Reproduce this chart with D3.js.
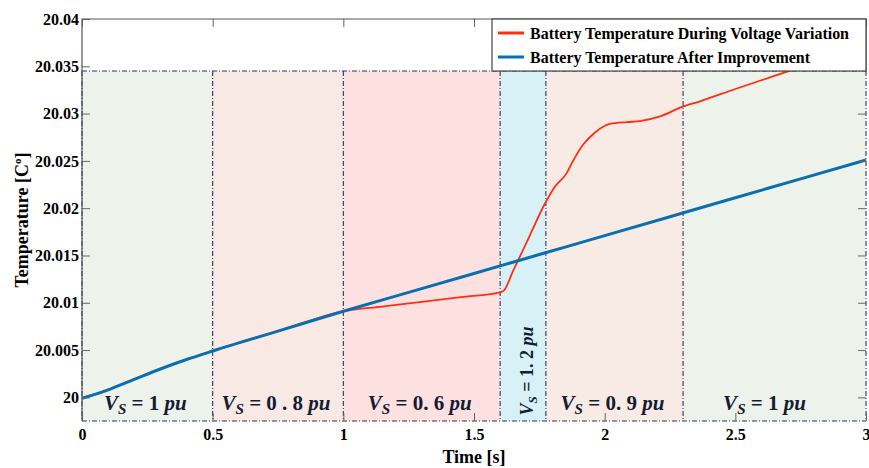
<!DOCTYPE html>
<html lang="en">
<head>
    <meta charset="UTF-8">
    <title>Battery Temperature</title>
    <script src="https://d3js.org/d3.v7.min.js"></script>
    <style>
        body { margin: 0; background: white; }
        text { font-family: "Liberation Serif", "Times New Roman", serif; font-weight: bold; }
    </style>
</head>
<body>
    <svg id="svg1" height="468" width="869" style="background: white"></svg>

    <script>
        // data ------------------------------------------------------------------------
        const seriesNames = ["Battery Temperature During Voltage Variation", "Battery Temperature After Improvement"];

        const timeBlue = [0, 0.1, 0.2, 0.3, 0.4, 0.5, 0.75, 1, 1.25, 1.5, 1.75, 2, 2.25, 2.5, 2.75, 3];
        const tempBlue = [19.9999, 20.0008, 20.0019, 20.0030, 20.0040, 20.0049, 20.0070, 20.0091,
                          20.0111, 20.0131, 20.0151, 20.0171, 20.0191, 20.0211, 20.0231, 20.0251];

        const timeRed = [0, 0.1, 0.2, 0.3, 0.4, 0.5, 0.75, 1, 1.15, 1.3, 1.45, 1.6, 1.615, 1.65, 1.7, 1.7756,
                         1.81, 1.852, 1.879, 1.917, 1.963, 2.02, 2.085, 2.135, 2.212, 2.296, 2.365, 2.5, 2.728, 3];
        const tempRed = [19.9999, 20.0008, 20.0019, 20.0030, 20.0040, 20.0049, 20.0070, 20.0091, 20.0096,
                         20.0101, 20.0106, 20.0111, 20.0113, 20.0134, 20.0163, 20.0207, 20.0223, 20.0236,
                         20.0250, 20.0267, 20.0280, 20.0289, 20.0291, 20.0292, 20.0297, 20.0307, 20.0313,
                         20.0326, 20.0347, 20.0372];

        // voltage stages (s) and supply voltage labels
        const stageStart = [0, 0.5, 1, 1.6, 1.775, 2.3];
        const stageEnd = [0.5, 1, 1.6, 1.775, 2.3, 3];
        const stageVolt = ["1", "0 . 8", "0. 6", "1. 2", "0. 9", "1"];
        const shadeTop = 20.0345;

        const xTicks = [0, 0.5, 1, 1.5, 2, 2.5, 3];
        const yTicks = [20, 20.005, 20.01, 20.015, 20.02, 20.025, 20.03, 20.035, 20.04];

        // styles
        const stageColors = ["#edf3ea", "#f9e9e4", "#fde1e1", "#d7f1f7", "#f8ebe5", "#edf3ea"];
        const lineColors = ["#ff2e12", "#0b6fae"];

        // chart setup -----------------------------------------------------------------
        const svg = d3.select("svg#svg1");
        const margin = {top: 19, right: 3, left: 82, bottom: 47};
        const width = +svg.attr("width") - margin.left - margin.right;
        const height = +svg.attr("height") - margin.top - margin.bottom;

        const chart = svg.append("g").attr("transform", `translate(${margin.left}, ${margin.top})`);

        const xScale = d3.scaleLinear().domain([0, 3]).range([0, width]);
        const yScale = d3.scaleLinear().domain([19.9975, 20.04]).range([height, 0]);

        // shaded stages
        const stages = stageStart.map((s, i) => ({s: s, e: stageEnd[i], v: stageVolt[i], c: stageColors[i]}));

        chart.selectAll("rect.stage").data(stages).join("rect")
            .attr("class", "stage")
            .attr("x", d => xScale(d.s))
            .attr("y", yScale(shadeTop))
            .attr("width", d => xScale(d.e) - xScale(d.s))
            .attr("height", height - yScale(shadeTop))
            .attr("fill", d => d.c);

        // dash-dot borders of stages
        const borderStyle = g => g.attr("stroke", "#27355f").attr("stroke-width", 1.1)
                                  .attr("stroke-dasharray", "5,2,1,2").attr("fill", "none");

        chart.selectAll("line.vb").data(stageStart.concat([3])).join("line")
            .attr("class", "vb")
            .attr("x1", d => xScale(d)).attr("x2", d => xScale(d))
            .attr("y1", yScale(shadeTop)).attr("y2", height)
            .call(borderStyle);
        chart.append("line")
            .attr("x1", 0).attr("x2", width)
            .attr("y1", yScale(shadeTop)).attr("y2", yScale(shadeTop))
            .call(borderStyle);
        chart.append("line")
            .attr("x1", 0).attr("x2", width)
            .attr("y1", height).attr("y2", height)
            .call(borderStyle);

        // stage labels
        const labelColor = "#141c33";
        stages.forEach((d, i) => {
            const cx = (xScale(d.s) + xScale(d.e)) / 2;
            let t;
            if (d.e - d.s < 0.3) {
                // narrow stage: vertical label
                t = chart.append("text")
                    .attr("transform", `translate(${cx + 10}, ${height - 50}) rotate(-90)`)
                    .attr("text-anchor", "middle")
                    .style("font-size", "18px");
            } else {
                t = chart.append("text")
                    .attr("x", cx - (i === 5 ? 10 : 2))
                    .attr("y", height - 11)
                    .attr("text-anchor", "middle")
                    .style("font-size", "21px");
            }
            t.attr("fill", labelColor);
            t.append("tspan").style("font-style", "italic").text("V");
            t.append("tspan").style("font-style", "italic").style("font-size", "0.72em").attr("dy", 4).text("S");
            t.append("tspan").attr("dy", -4).text(" = " + d.v + " ");
            t.append("tspan").style("font-style", "italic").text("pu");
        });

        // lines
        const line = d3.line().x(d => xScale(d[0])).y(d => yScale(d[1])).curve(d3.curveMonotoneX);

        chart.append("path")
            .datum(timeRed.map((t, i) => [t, tempRed[i]]))
            .attr("d", line)
            .attr("fill", "none")
            .attr("stroke", lineColors[0])
            .attr("stroke-width", 1.8);

        chart.append("path")
            .datum(timeBlue.map((t, i) => [t, tempBlue[i]]))
            .attr("d", line)
            .attr("fill", "none")
            .attr("stroke", lineColors[1])
            .attr("stroke-width", 3);

        // axes (ticks inside, like matlab)
        const fmt = d => String(+d.toFixed(3));
        const styleAxis = g => {
            g.select(".domain").remove();
            g.selectAll(".tick line").attr("stroke", "#666");
            g.selectAll("text").attr("fill", "black").style("font-size", "16px")
                .style("font-family", "'Liberation Serif', serif").style("font-weight", "bold");
        };

        chart.append("g")
            .call(d3.axisLeft(yScale).tickValues(yTicks).tickFormat(fmt).tickSize(-8).tickPadding(3))
            .call(styleAxis);
        chart.append("g").attr("transform", `translate(${width}, 0)`)
            .call(d3.axisRight(yScale).tickValues(yTicks).tickFormat("").tickSize(-8))
            .call(styleAxis);
        chart.append("g").attr("transform", `translate(0, ${height})`)
            .call(d3.axisBottom(xScale).tickValues(xTicks).tickFormat(d3.format("~f")).tickSize(-8).tickPadding(8))
            .call(styleAxis);
        chart.append("g")
            .call(d3.axisTop(xScale).tickValues(xTicks).tickFormat("").tickSize(-8))
            .call(styleAxis);

        // axis box (left and top)
        chart.append("path")
            .attr("d", `M0,${height}V0H${width}V${yScale(shadeTop)}`)
            .attr("fill", "none").attr("stroke", "#555").attr("stroke-width", 1.2);

        // axis labels
        svg.append("text")
            .attr("x", margin.left + width / 2)
            .attr("y", 463)
            .attr("text-anchor", "middle")
            .style("font-size", "18px")
            .text("Time [s]");

        const yLab = svg.append("text")
            .attr("transform", `translate(28, ${margin.top + height / 2}) rotate(-90)`)
            .attr("text-anchor", "middle")
            .style("font-size", "18px");
        yLab.append("tspan").text("Temperature [C");
        yLab.append("tspan").attr("dy", -7).style("font-size", "11px").text("o");
        yLab.append("tspan").attr("dy", 7).text("]");

        // legend
        const legend = svg.append("g").attr("transform", `translate(492, ${margin.top})`);
        legend.append("rect")
            .attr("width", margin.left + width - 492)
            .attr("height", yScale(shadeTop))
            .attr("fill", "white")
            .attr("stroke", "#444")
            .attr("stroke-width", 1.2);

        const legendWidths = [319, 280];
        seriesNames.forEach((name, i) => {
            const ly = 14 + i * 24;
            legend.append("line")
                .attr("x1", 6).attr("x2", 32)
                .attr("y1", ly).attr("y2", ly)
                .attr("stroke", lineColors[i])
                .attr("stroke-width", 3);
            legend.append("text")
                .attr("x", 38)
                .attr("y", ly + 6)
                .attr("textLength", legendWidths[i])
                .attr("lengthAdjust", "spacingAndGlyphs")
                .style("font-size", "17px")
                .text(name);
        });
    </script>
</body>
</html>
